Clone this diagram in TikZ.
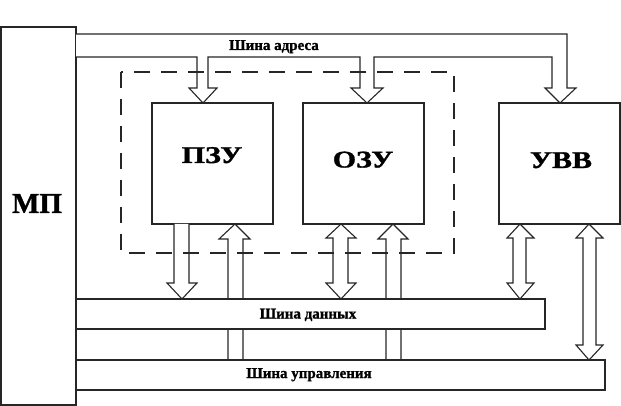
\documentclass[tikz,border=0pt]{standalone}
\usepackage{fontspec}
\setmainfont{Liberation Serif}[BoldFeatures={FakeBold=1.2}]
\usepackage{graphicx}
\begin{document}
\begin{tikzpicture}[x=1pt,y=-1pt,
  ln/.style={draw=black!85,line width=1.1pt,line join=miter},
  blk/.style={ln,fill=white},
  fat/.style={ln,fill=white},
  lbl/.style={font=\bfseries\fontsize{15}{15}\selectfont,inner sep=0pt,anchor=base},
  big/.style={font=\bfseries\fontsize{24}{24}\selectfont,inner sep=0pt,anchor=base}]
\useasboundingbox (0,0) rectangle (621,406);
% blocks
\draw[blk] (1,27) rectangle (76,405);
\draw[blk] (152,103) rectangle (273,224);
\draw[blk] (303,103) rectangle (424,224);
\draw[blk] (499,103) rectangle (620,224);
% address bus
\draw[fat] (76,34) -- (567,34) -- (567,88) -- (576,88) -- (560,103) -- (545,88) -- (552,88) -- (552,57)
  -- (374,57) -- (374,88) -- (383,88) -- (367,103) -- (351,88) -- (360,88) -- (360,57)
  -- (208,57) -- (208,88) -- (217,88) -- (203,103) -- (189,88) -- (197,88) -- (197,57) -- (76,57);
% arrows from control bus (behind data bus)
\draw[fat] (228,360) -- (228,239) -- (219,239) -- (235,224) -- (250,239) -- (243,239) -- (243,360);
\draw[fat] (386,360) -- (386,239) -- (378,239) -- (393,224) -- (408,239) -- (401,239) -- (401,360);
% buses
\draw[blk] (76,299) rectangle (545,329);
\draw[blk] (76,360) rectangle (605,390);
% PZU down arrow
\draw[fat] (174,224) -- (174,283) -- (167,283) -- (182,299) -- (197,283) -- (189,283) -- (189,224);
% OZU double arrow
\draw[fat] (333,238) -- (326,238) -- (341,224) -- (356,238) -- (348,238) -- (348,283) -- (356,283) -- (341,299) -- (326,283) -- (333,283) -- cycle;
% UVV double arrows
\draw[fat] (513,238) -- (507,238) -- (520,224) -- (534,238) -- (526,238) -- (526,283) -- (534,283) -- (520,299) -- (507,283) -- (513,283) -- cycle;
\draw[fat] (583,238) -- (576,238) -- (589,224) -- (603,238) -- (596,238) -- (596,345) -- (603,345) -- (589,360) -- (576,345) -- (583,345) -- cycle;
% dashed frame
\draw[ln,dash pattern=on 16pt off 11pt] (121,72) rectangle (454,253);
% labels
\node[lbl] (la) at (274,50) {Шина адреса};
\node[lbl] (ld) at (308,318.5) {Шина данных};
\node[lbl] (lu) at (309,378) {Шина управления};
\node[big,font=\bfseries\fontsize{29}{29}\selectfont] (mp) at (37,213) {МП};
\node[big] (pzu) at (212,163) {\scalebox{1.25}[1]{ПЗУ}};
\node[big] (ozu) at (363,167.5) {\scalebox{1.25}[1]{ОЗУ}};
\node[big] (uvv) at (561,168) {\scalebox{1.25}[1]{УВВ}};
\end{tikzpicture}
\end{document}
